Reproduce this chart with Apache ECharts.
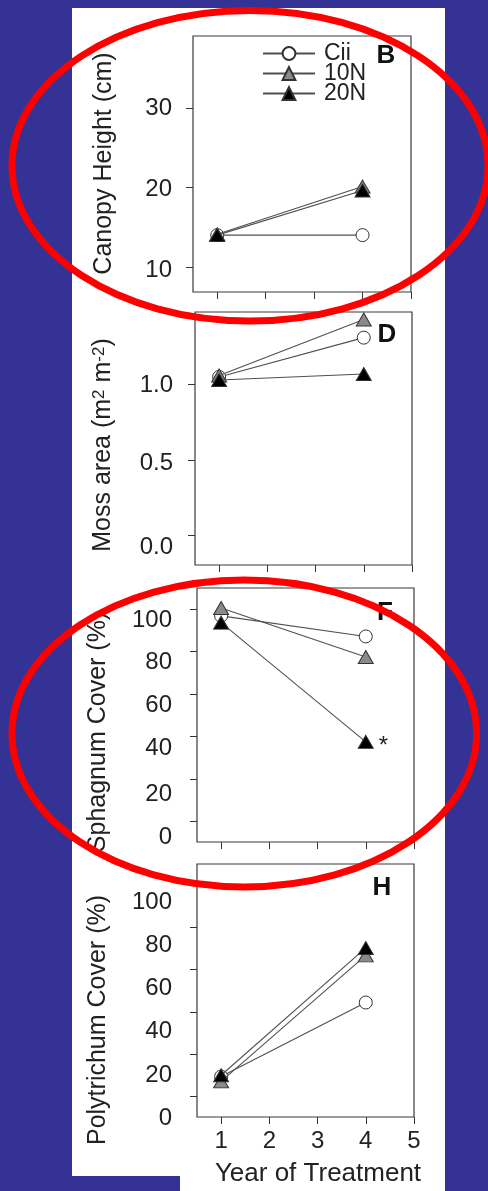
<!DOCTYPE html>
<html>
<head>
<meta charset="utf-8">
<script src="https://cdn.jsdelivr.net/npm/echarts@6/dist/echarts.min.js"></script>
<style>
html,body{margin:0;padding:0;background:#343395;}
#chart{width:488px;height:1191px;}
</style>
</head>
<body>
<div id="chart"></div>
<script>
// ---------------- DATA ----------------
const years = [1, 4];
const xTickValues = [1, 2, 3, 4, 5];
const seriesNames = ['Cii', '10N', '20N'];

// Panel B: Canopy Height (cm)
const canopyCii = [14.0, 14.0];
const canopy10N = [14.1, 20.1];
const canopy20N = [14.0, 19.6];
const canopyTicks = [10, 20, 30];

// Panel D: Moss area (m2 m-2)
const mossCii = [1.05, 1.31];
const moss10N = [1.06, 1.43];
const moss20N = [1.03, 1.07];
const mossTicks = [0, 0.5, 1.0];

// Panel F: Sphagnum Cover (%)
const sphagnumCii = [96.8, 87.1];
const sphagnum10N = [100.5, 77.4];
const sphagnum20N = [93.6, 37.5];

// Panel H: Polytrichum Cover (%)
const polytrichumCii = [9.4, 44.4];
const polytrichum10N = [7.1, 66.7];
const polytrichum20N = [10.0, 70.2];

const coverTicks = [0, 20, 40, 60, 80, 100];

const panelTitles = ['Canopy Height (cm)', 'Moss area (m{sup|2} m{sup|-2})', 'Sphagnum Cover (%)', 'Polytrichum Cover (%)'];
const panelLetters = ['B', 'D', 'F', 'H'];
const xTitle = 'Year of Treatment';
const significanceMark = '*';

// ---------------- LAYOUT / STYLE ----------------
const FONT = '"Liberation Sans", Arial, Helvetica, sans-serif';
const BG = '#343395';

// labelShift: downward pixel offset of each tick label (same order as ticks), as in the original figure
const panels = [
  { left: 193, top: 36,  width: 218, height: 256, ymin: 6.855, ymax: 39.02, ticks: canopyTicks, fmt: v => String(v),
    data: [canopyCii, canopy10N, canopy20N], labelMargin: 21, labelShift: [3, 2, 1],
    title: { x: 104, y: 163.5 }, letter: { x: 386, y: 56 } },
  { left: 195, top: 312, width: 217, height: 253, ymin: -0.1935, ymax: 1.4795, ticks: mossTicks, fmt: v => v.toFixed(1),
    data: [mossCii, moss10N, moss20N], labelMargin: 22, labelShift: [11.5, 3.5, 1],
    title: { x: 103, y: 445 }, letter: { x: 387, y: 335 } },
  { left: 197, top: 588, width: 217, height: 254, ymin: -9.62, ymax: 109.9, ticks: coverTicks, fmt: v => String(v),
    data: [sphagnumCii, sphagnum10N, sphagnum20N], labelMargin: 25, labelShift: [16, 15, 12, 11, 11, 11],
    title: { x: 98, y: 732 }, letter: { x: 385, y: 613 } },
  { left: 197, top: 864, width: 217, height: 253, ymin: -9.73, ymax: 109.9, ticks: coverTicks, fmt: v => String(v),
    data: [polytrichumCii, polytrichum10N, polytrichum20N], labelMargin: 25, labelShift: [22, 21, 20, 19, 18, 17],
    title: { x: 98, y: 1020 }, letter: { x: 382, y: 888 } }
];

const markStyles = {
  'Cii': { symbol: 'circle',   size: 13,       fill: '#ffffff', z: 3 },
  '10N': { symbol: 'triangle', size: [15, 13], fill: '#8a8a8a', z: 4 },
  '20N': { symbol: 'triangle', size: [15, 13], fill: '#000000', z: 5 }
};

const grids = [], xAxes = [], yAxes = [], series = [];
panels.forEach((p, gi) => {
  grids.push({ left: p.left, top: p.top, width: p.width, height: p.height, show: true,
    borderColor: '#3a3a3a', borderWidth: 1.2, backgroundColor: 'transparent', containLabel: false });
  const last = gi === panels.length - 1;
  xAxes.push({ type: 'value', gridIndex: gi, min: 0.5, max: 5,
    axisLine: { show: false, onZero: false },
    splitLine: { show: false },
    axisTick: { show: true, length: 7, customValues: xTickValues, lineStyle: { color: '#333', width: 1 } },
    axisLabel: { show: last, customValues: xTickValues, margin: 12, fontSize: 24, fontFamily: FONT, color: '#222' } });
  const rich = {};
  p.ticks.forEach((t, i) => {
    rich['r' + i] = { fontSize: 24, fontFamily: FONT, color: '#222', lineHeight: Math.max(1, 2 * p.labelShift[i]) };
  });
  yAxes.push({ type: 'value', gridIndex: gi, min: p.ymin, max: p.ymax,
    axisLine: { show: false, onZero: false },
    splitLine: { show: false },
    axisTick: { show: true, length: 7, customValues: p.ticks, lineStyle: { color: '#333', width: 1 } },
    axisLabel: { show: true, customValues: p.ticks, margin: p.labelMargin,
      formatter: v => {
        let i = p.ticks.findIndex(t => Math.abs(t - v) < 1e-9);
        if (i < 0) i = 0;
        return '{r' + i + '|' + p.fmt(v) + '}';
      },
      fontSize: 24, fontFamily: FONT, color: '#222', verticalAlign: 'top', rich } });
  seriesNames.forEach((name, si) => {
    const st = markStyles[name];
    const vals = p.data[si];
    const star = gi === 2 && name === '20N';
    series.push({
      type: 'line', name, xAxisIndex: gi, yAxisIndex: gi,
      data: years.map((x, i) => (star && i === 1)
        ? { value: [x, vals[i]], label: { show: true, formatter: significanceMark, position: 'right',
            distance: 5, offset: [0, 5], fontSize: 24, fontFamily: FONT, color: '#222' } }
        : [x, vals[i]]),
      symbol: st.symbol, symbolSize: st.size, showSymbol: true,
      itemStyle: { color: st.fill, borderColor: '#333', borderWidth: 1 },
      lineStyle: { color: '#505050', width: 1.1 },
      z: st.z, emphasis: { disabled: true }, silent: true
    });
  });
});

const graphics = [
  { type: 'rect', z: -100, shape: { x: 72, y: 8, width: 373, height: 1183 }, style: { fill: '#ffffff' } },
  { type: 'rect', z: -99, shape: { x: 72, y: 1176, width: 108, height: 15 }, style: { fill: BG } }
];
panels.forEach((p, gi) => {
  const isMoss = gi === 1;
  graphics.push({ type: 'text', z: 10, x: p.title.x, y: p.title.y, rotation: Math.PI / 2,
    style: { text: panelTitles[gi], fontSize: 25, fontFamily: FONT, fill: '#222', align: 'center', verticalAlign: 'middle',
      rich: isMoss ? { sup: { fontSize: 17, fontFamily: FONT, fill: '#222', verticalAlign: 'top' } } : undefined } });
  graphics.push({ type: 'text', z: 10, x: p.letter.x, y: p.letter.y,
    style: { text: panelLetters[gi], fontSize: 26, fontWeight: 'bold', fontFamily: FONT, fill: '#111', align: 'center', verticalAlign: 'middle' } });
});
graphics.push({ type: 'text', z: 10, x: 318, y: 1174,
  style: { text: xTitle, fontSize: 26, fontFamily: FONT, fill: '#222', align: 'center', verticalAlign: 'middle' } });
// red annotation ellipses
graphics.push({ type: 'ellipse', z: 200, shape: { cx: 250, cy: 165.7, rx: 238, ry: 155.3 },
  style: { fill: 'none', stroke: '#ff0000', lineWidth: 7 } });
graphics.push({ type: 'ellipse', z: 200, shape: { cx: 244.3, cy: 733.5, rx: 232.3, ry: 153.5 },
  style: { fill: 'none', stroke: '#ff0000', lineWidth: 7 } });

const chart = echarts.init(document.getElementById('chart'), null, { renderer: 'canvas' });
chart.setOption({
  animation: false,
  backgroundColor: BG,
  grid: grids,
  xAxis: xAxes,
  yAxis: yAxes,
  legend: {
    data: seriesNames, orient: 'vertical', left: 262, top: 42, padding: 0,
    itemWidth: 52, itemHeight: 16, itemGap: -3, selectedMode: false,
    textStyle: { fontSize: 23, fontFamily: FONT, color: '#222', lineHeight: 16, padding: [2, 0, 0, 4] }
  },
  series,
  graphic: { elements: graphics }
});
</script>
</body>
</html>
